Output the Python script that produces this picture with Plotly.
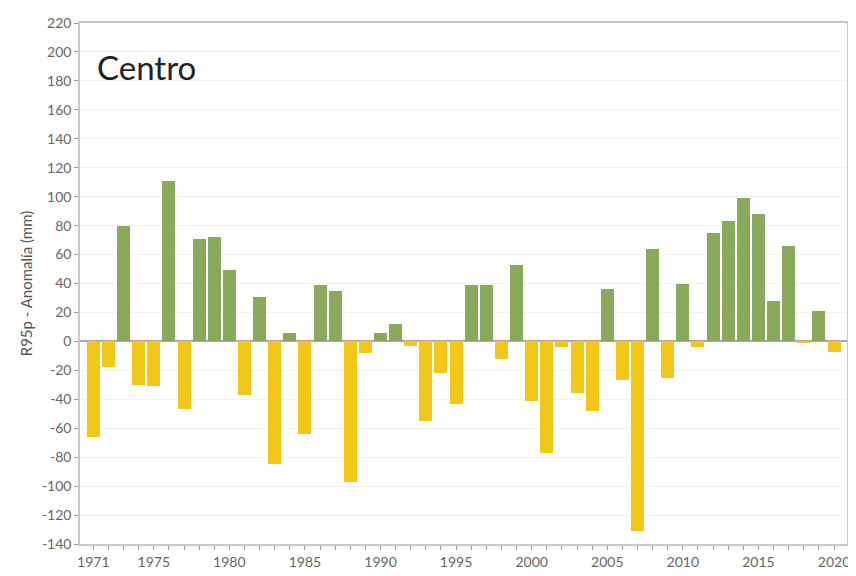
import plotly.graph_objects as go

years = list(range(1971, 2021))
anomaly = [
    -66, -18, 80, -30, -31, 111, -47, 71, 72, 49,
    -37, 31, -85, 6, -64, 39, 35, -97, -8, 6,
    12, -3, -55, -22, -43, 39, 39, -12, 53, -41,
    -77, -4, -36, -48, 36, -27, -131, 64, -25, 40,
    -4, 75, 83, 99, 88, 28, 66, -1, 21, -7,
]
panel_title = "Centro"
y_title = "R95p - Anomalía (mm)"
y_ticks = list(range(-140, 221, 20))
x_label_years = [1971, 1975, 1980, 1985, 1990, 1995, 2000, 2005, 2010, 2015, 2020]

green = "#89a95c"
yellow = "#f1c81a"
colors = [green if v >= 0 else yellow for v in anomaly]

fig = go.Figure()
fig.add_trace(go.Bar(
    x=years, y=anomaly, marker=dict(color=colors, line=dict(width=0)),
    width=0.86, showlegend=False,
))

fig.update_layout(
    width=848, height=568,
    margin=dict(l=72, r=6, t=10, b=25),
    paper_bgcolor="white", plot_bgcolor="white",
    font=dict(family="Lato, sans-serif", color="#666666", size=14),
    xaxis=dict(
        range=[1970.12, 2020.86],
        tickvals=years,
        ticktext=[str(y) if y in x_label_years else "" for y in years],
        ticks="outside", ticklen=4, tickcolor="#999999",
        showgrid=False, showline=True, linecolor="#c8c8c8", linewidth=1.5,
        mirror=True, tickfont=dict(size=14, color="#666666"),
    ),
    yaxis=dict(
        range=[-140, 220],
        tickvals=y_ticks,
        ticktext=[str(v).replace("\u2212", "-") for v in y_ticks],
        ticks="outside", ticklen=4, tickcolor="#999999",
        showgrid=True, gridcolor="#f3f3f3", gridwidth=1,
        zeroline=True, zerolinecolor="#a8a8a8", zerolinewidth=1.5,
        showline=True, linecolor="#c8c8c8", linewidth=1.5, mirror=True,
        tickfont=dict(size=14, color="#666666"),
        title=dict(text=y_title, font=dict(size=15, color="#555555"), standoff=6),
    ),
    annotations=[dict(
        text=panel_title, xref="paper", yref="paper", x=0.02, y=0.915,
        xanchor="left", yanchor="middle", showarrow=False,
        font=dict(size=33, color="#222222", family="Lato, sans-serif"),
    )],
    bargap=0,
)

fig.write_html("out.html")
